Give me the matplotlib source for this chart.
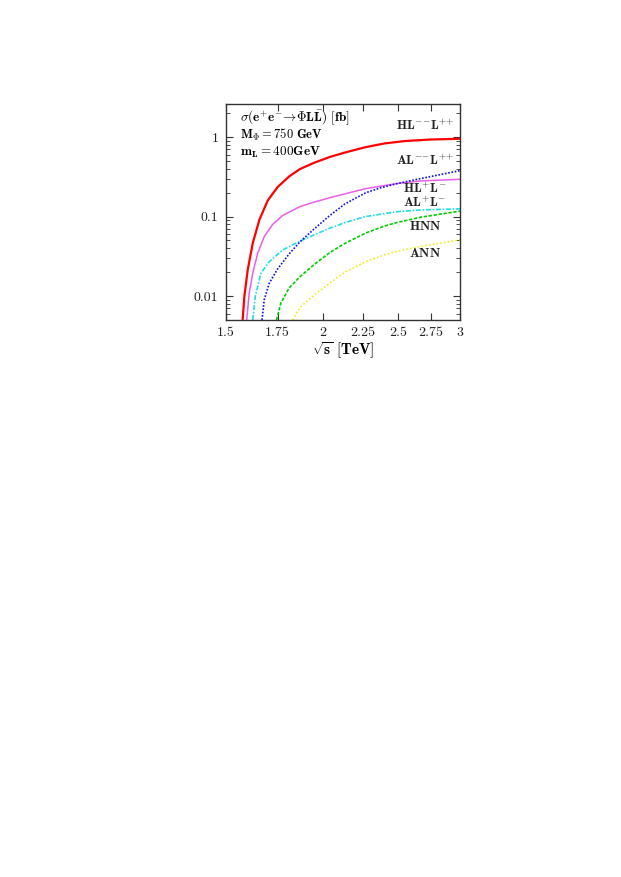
import matplotlib
matplotlib.use("Agg")
import matplotlib.pyplot as plt
from matplotlib.ticker import FixedLocator, FixedFormatter, NullLocator, LogLocator

plt.rcParams['mathtext.fontset'] = 'cm'
plt.rcParams['font.family'] = ['cmr10', 'DejaVu Serif']
plt.rcParams['axes.formatter.use_mathtext'] = True

# values (sqrt(s) in TeV, sigma in fb)
x_hll = [1.578, 1.586, 1.602, 1.626, 1.658, 1.70, 1.75, 1.811, 1.869, 1.95, 2.04, 2.15, 2.27, 2.40, 2.55, 2.75, 3.0]
y_hll = [0.005, 0.0099, 0.0215, 0.0465, 0.091, 0.16, 0.235, 0.32, 0.395, 0.475, 0.56, 0.65, 0.745, 0.83, 0.89, 0.93, 0.95]

x_hlpm = [1.597, 1.609, 1.626, 1.650, 1.682, 1.725, 1.776, 1.830, 1.869, 1.95, 2.04, 2.135, 2.27, 2.49, 2.67, 3.0]
y_hlpm = [0.005, 0.011, 0.0195, 0.0348, 0.056, 0.08, 0.103, 0.12, 0.133, 0.152, 0.172, 0.193, 0.224, 0.26, 0.28, 0.294]

x_alpm = [1.626, 1.638, 1.666, 1.707, 1.776, 1.869, 1.95, 2.04, 2.135, 2.27, 2.49, 2.67, 3.0]
y_alpm = [0.005, 0.0099, 0.0195, 0.027, 0.038, 0.049, 0.059, 0.071, 0.084, 0.10, 0.115, 0.121, 0.125]

x_all = [1.671, 1.682, 1.707, 1.75, 1.811, 1.869, 1.95, 2.039, 2.135, 2.27, 2.37, 2.49, 2.67, 3.0]
y_all = [0.005, 0.009, 0.0145, 0.022, 0.034, 0.048, 0.070, 0.102, 0.144, 0.199, 0.229, 0.259, 0.30, 0.378]

x_hnn = [1.744, 1.767, 1.811, 1.869, 1.95, 2.04, 2.135, 2.27, 2.40, 2.49, 2.67, 3.0]
y_hnn = [0.005, 0.0082, 0.0127, 0.0175, 0.025, 0.035, 0.046, 0.062, 0.076, 0.084, 0.098, 0.117]

x_ann = [1.83, 1.869, 1.95, 2.04, 2.135, 2.27, 2.40, 2.49, 2.67, 3.0]
y_ann = [0.005, 0.0072, 0.0103, 0.0145, 0.020, 0.027, 0.033, 0.0365, 0.042, 0.051]

xticks = [1.5, 1.75, 2, 2.25, 2.5, 2.75, 3]
xtick_labels = ['1.5', '1.75', '2', '2.25', '2.5', '2.75', '3']
yticks = [0.01, 0.1, 1]
ytick_labels = ['0.01', '0.1', '1']

fig = plt.figure(figsize=(6.21, 8.77), dpi=100)
ax = fig.add_axes([225.5 / 621, 1 - 320 / 877, 234.5 / 621, 216 / 877])

ax.plot(x_hll, y_hll, color='#ff0000', lw=1.6, ls='-')
ax.plot(x_hlpm, y_hlpm, color='#e860e8', lw=1.1, ls='-')
ax.plot(x_alpm, y_alpm, color='#22dde8', lw=1.2, ls=(0, (3, 1, 1, 1)))
ax.plot(x_all, y_all, color='#1010ee', lw=1.2, ls=(0, (1, 1)))
ax.plot(x_hnn, y_hnn, color='#00cc00', lw=1.2, ls=(0, (2, 1)))
ax.plot(x_ann, y_ann, color='#eeee00', lw=1.1, ls=(0, (1, 1.5)))

ax.set_xscale('log')
ax.set_yscale('log')
ax.set_xlim(1.5, 3)
ax.set_ylim(0.005, 2.6)

ax.xaxis.set_major_locator(FixedLocator(xticks))
ax.xaxis.set_major_formatter(FixedFormatter(xtick_labels))
ax.xaxis.set_minor_locator(NullLocator())
ax.yaxis.set_major_locator(FixedLocator(yticks))
ax.yaxis.set_major_formatter(FixedFormatter(ytick_labels))
ax.yaxis.set_minor_locator(LogLocator(base=10, subs=range(2, 10)))
ax.yaxis.set_minor_formatter(FixedFormatter([]))

ax.tick_params(which='both', direction='in', top=True, right=True,
               colors='#333333', labelsize=10, labelcolor='#222222')
ax.tick_params(which='major', length=5, width=0.8, pad=5)
ax.tick_params(which='minor', length=3, width=0.6)
for sp in ax.spines.values():
    sp.set_color('#333333')
    sp.set_linewidth(1.0)

ax.set_xlabel(r'$\sqrt{\mathbf{s}}\ [\mathbf{TeV}]$', fontsize=11, labelpad=1)

ax.text(0.062, 0.935, r'$\sigma(\mathbf{e}^{+}\mathbf{e}^{-}\!\rightarrow\!\mathbf{\Phi L\bar{L}})\ [\mathbf{fb}]$',
        transform=ax.transAxes, fontsize=9.5, va='center', ha='left')
ax.text(0.062, 0.861, r'$\mathbf{M_{\Phi}=750\ GeV}$',
        transform=ax.transAxes, fontsize=9, va='center', ha='left')
ax.text(0.062, 0.776, r'$\mathbf{m_{L}=400GeV}$',
        transform=ax.transAxes, fontsize=9.5, va='center', ha='left')

labels = [r'$\mathbf{HL}^{{-}{-}}\mathbf{L}^{{+}{+}}$', r'$\mathbf{AL}^{{-}{-}}\mathbf{L}^{{+}{+}}$',
          r'$\mathbf{HL}^{+}\mathbf{L}^{-}$', r'$\mathbf{AL}^{+}\mathbf{L}^{-}$',
          r'$\mathbf{HNN}$', r'$\mathbf{ANN}$']
label_y = [0.898, 0.736, 0.61, 0.545, 0.432, 0.309]
for lab, yy in zip(labels, label_y):
    ax.text(0.851, yy, lab, transform=ax.transAxes, fontsize=9.5,
            va='center', ha='center', color='#222222')

fig.savefig('out.png', dpi=100)
